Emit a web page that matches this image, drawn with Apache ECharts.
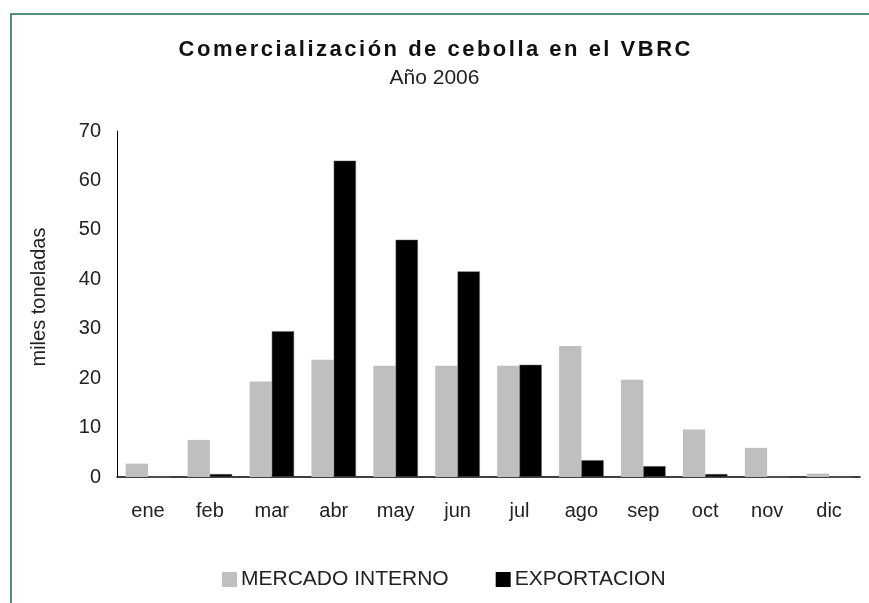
<!DOCTYPE html>
<html>
<head>
<meta charset="utf-8">
<script src="https://cdn.jsdelivr.net/npm/echarts@6/dist/echarts.min.js"></script>
<style>
  html, body { margin: 0; padding: 0; background: #fff; }
  #chart { width: 869px; height: 603px; }
</style>
</head>
<body>
<div id="chart"></div>
<script>
// meses
var meses = ['ene', 'feb', 'mar', 'abr', 'may', 'jun', 'jul', 'ago', 'sep', 'oct', 'nov', 'dic']
// miles de toneladas
var mercadoInterno = [2.7, 7.5, 19.3, 23.7, 22.5, 22.5, 22.5, 26.5, 19.7, 9.6, 5.9, 0.7]
var exportacion = [0, 0.6, 29.5, 64.0, 48.0, 41.6, 22.7, 3.4, 2.2, 0.6, 0, 0]

var titulo = 'Comercialización de cebolla en el VBRC'
var subtitulo = 'Año 2006'

var fuente = '"Liberation Sans", Arial, sans-serif'

// titulo espaciado: cada letra como fragmento rich con un poco de padding
var tituloRich = titulo.split('').map(function (ch) { return '{c|' + ch + '}' }).join('')

var chart = echarts.init(document.getElementById('chart'))

var option = {
  animation: false,
  backgroundColor: '#fff',
  textStyle: { fontFamily: fuente },
  title: {
    text: tituloRich,
    subtext: subtitulo,
    left: 'center',
    top: 34,
    itemGap: 7,
    textStyle: {
      fontSize: 22, fontWeight: 'bold', color: '#111', fontFamily: fuente,
      rich: {
        c: { fontSize: 22, fontWeight: 'bold', color: '#111', fontFamily: fuente, padding: [0, 1.25, 0, 1.25] }
      }
    },
    subtextStyle: { fontSize: 21, color: '#222', fontFamily: fuente }
  },
  // marco verde
  graphic: [{
    type: 'rect',
    shape: { x: 11, y: 14, width: 1000, height: 1000 },
    style: { fill: 'none', stroke: '#1f6e4b', lineWidth: 1.5 },
    silent: true
  }],
  legend: {
    data: ['MERCADO INTERNO', 'EXPORTACION'],
    bottom: 8,
    left: 217,
    icon: 'rect',
    itemWidth: 15,
    itemHeight: 15,
    itemGap: 47,
    itemStyle: { borderWidth: 0 },
    textStyle: { fontSize: 21, color: '#222', padding: [0, 0, 0, -1] }
  },
  grid: {
    left: 117,
    right: 9,
    top: 131,
    bottom: 126,
    containLabel: false
  },
  xAxis: {
    type: 'category',
    data: meses,
    axisLine: { lineStyle: { color: '#000', width: 1.5 } },
    axisTick: { show: false },
    axisLabel: { fontSize: 20, color: '#222', margin: 24 }
  },
  yAxis: {
    type: 'value',
    min: 0,
    max: 70,
    interval: 10,
    name: 'miles toneladas',
    nameLocation: 'middle',
    nameGap: 68,
    nameRotate: 90,
    nameTextStyle: { fontSize: 20, color: '#222', padding: [0, 0, 0, 14] },
    axisLine: { show: true, lineStyle: { color: '#000', width: 1 } },
    axisTick: { show: false },
    splitLine: { show: false },
    axisLabel: { fontSize: 20, color: '#222', margin: 16 }
  },
  series: [
    {
      name: 'MERCADO INTERNO',
      type: 'bar',
      data: mercadoInterno,
      barGap: '0%',
      barCategoryGap: '28%',
      itemStyle: { color: '#bfbfbf' }
    },
    {
      name: 'EXPORTACION',
      type: 'bar',
      data: exportacion,
      barGap: '0%',
      barCategoryGap: '28%',
      itemStyle: { color: '#000', borderColor: '#666', borderWidth: 0.5 }
    }
  ]
}

chart.setOption(option)
</script>
</body>
</html>
